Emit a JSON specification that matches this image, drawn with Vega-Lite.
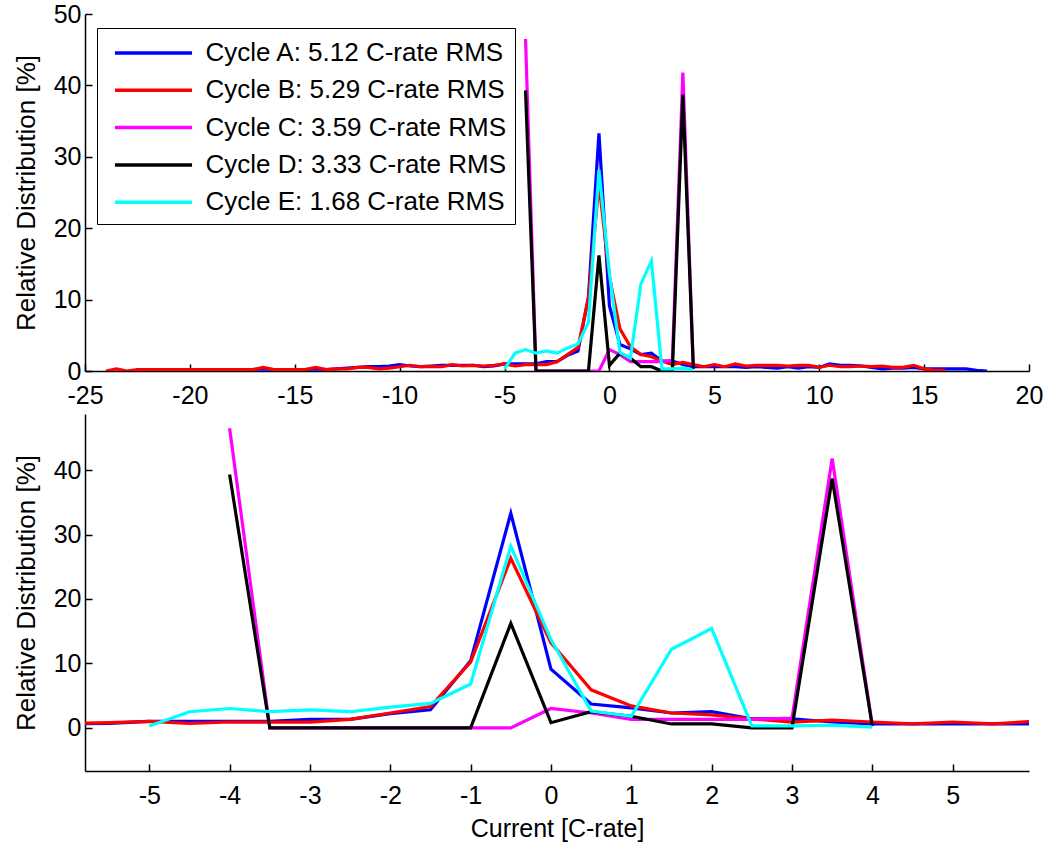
{
  "$schema": "https://vega.github.io/schema/vega-lite/v6.json",
  "padding": {"left": 13, "top": 2, "right": 5, "bottom": 5},
  "background": "white",
  "spacing": 43,
  "bounds": "flush",
  "config": {
    "view": {"stroke": null},
    "font": "Liberation Sans",
    "axis": {
      "grid": false,
      "domainColor": "black",
      "domainWidth": 1.5,
      "tickColor": "black",
      "tickWidth": 1.5,
      "tickSize": -7,
      "labelColor": "black",
      "labelFont": "Liberation Sans",
      "labelFontSize": 25,
      "labelFlush": false,
      "labelOverlap": false,
      "labelExpr": "'' + datum.value",
      "titleFont": "Liberation Sans",
      "titleFontSize": 25,
      "titleFontWeight": "normal",
      "titleColor": "black"
    },
    "axisX": {"labelPadding": 19},
    "axisY": {"labelPadding": 11, "titleFontSize": 26, "titlePadding": 14}
  },
  "datasets": {
    "d": [
      {"cycle": "Cycle A: 5.12 C-rate RMS", "x": -22, "y": 0.2},
      {"cycle": "Cycle A: 5.12 C-rate RMS", "x": -21.5, "y": 0.2},
      {"cycle": "Cycle A: 5.12 C-rate RMS", "x": -21, "y": 0.2},
      {"cycle": "Cycle A: 5.12 C-rate RMS", "x": -20.5, "y": 0.2},
      {"cycle": "Cycle A: 5.12 C-rate RMS", "x": -20, "y": 0.2},
      {"cycle": "Cycle A: 5.12 C-rate RMS", "x": -19.5, "y": 0.2},
      {"cycle": "Cycle A: 5.12 C-rate RMS", "x": -19, "y": 0.2},
      {"cycle": "Cycle A: 5.12 C-rate RMS", "x": -18.5, "y": 0.2},
      {"cycle": "Cycle A: 5.12 C-rate RMS", "x": -18, "y": 0.2},
      {"cycle": "Cycle A: 5.12 C-rate RMS", "x": -17.5, "y": 0.2},
      {"cycle": "Cycle A: 5.12 C-rate RMS", "x": -17, "y": 0.2},
      {"cycle": "Cycle A: 5.12 C-rate RMS", "x": -16.5, "y": 0.3},
      {"cycle": "Cycle A: 5.12 C-rate RMS", "x": -16, "y": 0.2},
      {"cycle": "Cycle A: 5.12 C-rate RMS", "x": -15.5, "y": 0.2},
      {"cycle": "Cycle A: 5.12 C-rate RMS", "x": -15, "y": 0.2},
      {"cycle": "Cycle A: 5.12 C-rate RMS", "x": -14.5, "y": 0.2},
      {"cycle": "Cycle A: 5.12 C-rate RMS", "x": -14, "y": 0.3},
      {"cycle": "Cycle A: 5.12 C-rate RMS", "x": -13.5, "y": 0.2},
      {"cycle": "Cycle A: 5.12 C-rate RMS", "x": -13, "y": 0.3},
      {"cycle": "Cycle A: 5.12 C-rate RMS", "x": -12.5, "y": 0.4},
      {"cycle": "Cycle A: 5.12 C-rate RMS", "x": -12, "y": 0.5},
      {"cycle": "Cycle A: 5.12 C-rate RMS", "x": -11.5, "y": 0.6},
      {"cycle": "Cycle A: 5.12 C-rate RMS", "x": -11, "y": 0.6},
      {"cycle": "Cycle A: 5.12 C-rate RMS", "x": -10.5, "y": 0.7},
      {"cycle": "Cycle A: 5.12 C-rate RMS", "x": -10, "y": 0.9},
      {"cycle": "Cycle A: 5.12 C-rate RMS", "x": -9.5, "y": 0.7},
      {"cycle": "Cycle A: 5.12 C-rate RMS", "x": -9, "y": 0.6},
      {"cycle": "Cycle A: 5.12 C-rate RMS", "x": -8.5, "y": 0.7},
      {"cycle": "Cycle A: 5.12 C-rate RMS", "x": -8, "y": 0.8},
      {"cycle": "Cycle A: 5.12 C-rate RMS", "x": -7.5, "y": 0.8},
      {"cycle": "Cycle A: 5.12 C-rate RMS", "x": -7, "y": 0.8},
      {"cycle": "Cycle A: 5.12 C-rate RMS", "x": -6.5, "y": 0.8},
      {"cycle": "Cycle A: 5.12 C-rate RMS", "x": -6, "y": 0.6},
      {"cycle": "Cycle A: 5.12 C-rate RMS", "x": -5.5, "y": 0.7},
      {"cycle": "Cycle A: 5.12 C-rate RMS", "x": -5, "y": 1.0},
      {"cycle": "Cycle A: 5.12 C-rate RMS", "x": -4.5, "y": 1.0},
      {"cycle": "Cycle A: 5.12 C-rate RMS", "x": -4, "y": 1.0},
      {"cycle": "Cycle A: 5.12 C-rate RMS", "x": -3.5, "y": 1.0},
      {"cycle": "Cycle A: 5.12 C-rate RMS", "x": -3, "y": 1.3},
      {"cycle": "Cycle A: 5.12 C-rate RMS", "x": -2.5, "y": 1.3},
      {"cycle": "Cycle A: 5.12 C-rate RMS", "x": -2, "y": 2.2},
      {"cycle": "Cycle A: 5.12 C-rate RMS", "x": -1.5, "y": 2.8},
      {"cycle": "Cycle A: 5.12 C-rate RMS", "x": -1, "y": 10.4},
      {"cycle": "Cycle A: 5.12 C-rate RMS", "x": -0.5, "y": 33.3},
      {"cycle": "Cycle A: 5.12 C-rate RMS", "x": 0, "y": 9.1},
      {"cycle": "Cycle A: 5.12 C-rate RMS", "x": 0.5, "y": 3.7},
      {"cycle": "Cycle A: 5.12 C-rate RMS", "x": 1, "y": 3.1},
      {"cycle": "Cycle A: 5.12 C-rate RMS", "x": 1.5, "y": 2.3},
      {"cycle": "Cycle A: 5.12 C-rate RMS", "x": 2, "y": 2.5},
      {"cycle": "Cycle A: 5.12 C-rate RMS", "x": 2.5, "y": 1.4},
      {"cycle": "Cycle A: 5.12 C-rate RMS", "x": 3, "y": 1.4},
      {"cycle": "Cycle A: 5.12 C-rate RMS", "x": 3.5, "y": 0.9},
      {"cycle": "Cycle A: 5.12 C-rate RMS", "x": 4, "y": 0.6},
      {"cycle": "Cycle A: 5.12 C-rate RMS", "x": 4.5, "y": 0.6},
      {"cycle": "Cycle A: 5.12 C-rate RMS", "x": 5, "y": 0.6},
      {"cycle": "Cycle A: 5.12 C-rate RMS", "x": 5.5, "y": 0.6},
      {"cycle": "Cycle A: 5.12 C-rate RMS", "x": 6, "y": 0.6},
      {"cycle": "Cycle A: 5.12 C-rate RMS", "x": 6.5, "y": 0.5},
      {"cycle": "Cycle A: 5.12 C-rate RMS", "x": 7, "y": 0.6},
      {"cycle": "Cycle A: 5.12 C-rate RMS", "x": 7.5, "y": 0.5},
      {"cycle": "Cycle A: 5.12 C-rate RMS", "x": 8, "y": 0.4},
      {"cycle": "Cycle A: 5.12 C-rate RMS", "x": 8.5, "y": 0.6},
      {"cycle": "Cycle A: 5.12 C-rate RMS", "x": 9, "y": 0.4},
      {"cycle": "Cycle A: 5.12 C-rate RMS", "x": 9.5, "y": 0.6},
      {"cycle": "Cycle A: 5.12 C-rate RMS", "x": 10, "y": 0.5},
      {"cycle": "Cycle A: 5.12 C-rate RMS", "x": 10.5, "y": 1.0},
      {"cycle": "Cycle A: 5.12 C-rate RMS", "x": 11, "y": 0.8},
      {"cycle": "Cycle A: 5.12 C-rate RMS", "x": 11.5, "y": 0.8},
      {"cycle": "Cycle A: 5.12 C-rate RMS", "x": 12, "y": 0.7},
      {"cycle": "Cycle A: 5.12 C-rate RMS", "x": 12.5, "y": 0.5},
      {"cycle": "Cycle A: 5.12 C-rate RMS", "x": 13, "y": 0.3},
      {"cycle": "Cycle A: 5.12 C-rate RMS", "x": 13.5, "y": 0.4},
      {"cycle": "Cycle A: 5.12 C-rate RMS", "x": 14, "y": 0.4},
      {"cycle": "Cycle A: 5.12 C-rate RMS", "x": 14.5, "y": 0.5},
      {"cycle": "Cycle A: 5.12 C-rate RMS", "x": 15, "y": 0.3},
      {"cycle": "Cycle A: 5.12 C-rate RMS", "x": 15.5, "y": 0.3},
      {"cycle": "Cycle A: 5.12 C-rate RMS", "x": 16, "y": 0.3},
      {"cycle": "Cycle A: 5.12 C-rate RMS", "x": 16.5, "y": 0.3},
      {"cycle": "Cycle A: 5.12 C-rate RMS", "x": 17, "y": 0.3},
      {"cycle": "Cycle A: 5.12 C-rate RMS", "x": 17.5, "y": 0.1},
      {"cycle": "Cycle A: 5.12 C-rate RMS", "x": 18, "y": 0.0},

      {"cycle": "Cycle B: 5.29 C-rate RMS", "x": -24, "y": 0.0},
      {"cycle": "Cycle B: 5.29 C-rate RMS", "x": -23.5, "y": 0.3},
      {"cycle": "Cycle B: 5.29 C-rate RMS", "x": -23, "y": 0.0},
      {"cycle": "Cycle B: 5.29 C-rate RMS", "x": -22.5, "y": 0.2},
      {"cycle": "Cycle B: 5.29 C-rate RMS", "x": -22, "y": 0.2},
      {"cycle": "Cycle B: 5.29 C-rate RMS", "x": -21.5, "y": 0.2},
      {"cycle": "Cycle B: 5.29 C-rate RMS", "x": -21, "y": 0.2},
      {"cycle": "Cycle B: 5.29 C-rate RMS", "x": -20.5, "y": 0.2},
      {"cycle": "Cycle B: 5.29 C-rate RMS", "x": -20, "y": 0.2},
      {"cycle": "Cycle B: 5.29 C-rate RMS", "x": -19.5, "y": 0.2},
      {"cycle": "Cycle B: 5.29 C-rate RMS", "x": -19, "y": 0.2},
      {"cycle": "Cycle B: 5.29 C-rate RMS", "x": -18.5, "y": 0.2},
      {"cycle": "Cycle B: 5.29 C-rate RMS", "x": -18, "y": 0.2},
      {"cycle": "Cycle B: 5.29 C-rate RMS", "x": -17.5, "y": 0.2},
      {"cycle": "Cycle B: 5.29 C-rate RMS", "x": -17, "y": 0.2},
      {"cycle": "Cycle B: 5.29 C-rate RMS", "x": -16.5, "y": 0.5},
      {"cycle": "Cycle B: 5.29 C-rate RMS", "x": -16, "y": 0.2},
      {"cycle": "Cycle B: 5.29 C-rate RMS", "x": -15.5, "y": 0.2},
      {"cycle": "Cycle B: 5.29 C-rate RMS", "x": -15, "y": 0.2},
      {"cycle": "Cycle B: 5.29 C-rate RMS", "x": -14.5, "y": 0.2},
      {"cycle": "Cycle B: 5.29 C-rate RMS", "x": -14, "y": 0.5},
      {"cycle": "Cycle B: 5.29 C-rate RMS", "x": -13.5, "y": 0.2},
      {"cycle": "Cycle B: 5.29 C-rate RMS", "x": -13, "y": 0.3},
      {"cycle": "Cycle B: 5.29 C-rate RMS", "x": -12.5, "y": 0.3},
      {"cycle": "Cycle B: 5.29 C-rate RMS", "x": -12, "y": 0.5},
      {"cycle": "Cycle B: 5.29 C-rate RMS", "x": -11.5, "y": 0.5},
      {"cycle": "Cycle B: 5.29 C-rate RMS", "x": -11, "y": 0.3},
      {"cycle": "Cycle B: 5.29 C-rate RMS", "x": -10.5, "y": 0.4},
      {"cycle": "Cycle B: 5.29 C-rate RMS", "x": -10, "y": 0.6},
      {"cycle": "Cycle B: 5.29 C-rate RMS", "x": -9.5, "y": 0.8},
      {"cycle": "Cycle B: 5.29 C-rate RMS", "x": -9, "y": 0.6},
      {"cycle": "Cycle B: 5.29 C-rate RMS", "x": -8.5, "y": 0.6},
      {"cycle": "Cycle B: 5.29 C-rate RMS", "x": -8, "y": 0.6},
      {"cycle": "Cycle B: 5.29 C-rate RMS", "x": -7.5, "y": 0.9},
      {"cycle": "Cycle B: 5.29 C-rate RMS", "x": -7, "y": 0.7},
      {"cycle": "Cycle B: 5.29 C-rate RMS", "x": -6.5, "y": 0.8},
      {"cycle": "Cycle B: 5.29 C-rate RMS", "x": -6, "y": 0.7},
      {"cycle": "Cycle B: 5.29 C-rate RMS", "x": -5.5, "y": 0.8},
      {"cycle": "Cycle B: 5.29 C-rate RMS", "x": -5, "y": 1.0},
      {"cycle": "Cycle B: 5.29 C-rate RMS", "x": -4.5, "y": 0.7},
      {"cycle": "Cycle B: 5.29 C-rate RMS", "x": -4, "y": 0.9},
      {"cycle": "Cycle B: 5.29 C-rate RMS", "x": -3.5, "y": 0.9},
      {"cycle": "Cycle B: 5.29 C-rate RMS", "x": -3, "y": 0.9},
      {"cycle": "Cycle B: 5.29 C-rate RMS", "x": -2.5, "y": 1.3},
      {"cycle": "Cycle B: 5.29 C-rate RMS", "x": -2, "y": 2.3},
      {"cycle": "Cycle B: 5.29 C-rate RMS", "x": -1.5, "y": 3.3},
      {"cycle": "Cycle B: 5.29 C-rate RMS", "x": -1, "y": 10.2},
      {"cycle": "Cycle B: 5.29 C-rate RMS", "x": -0.5, "y": 26.3},
      {"cycle": "Cycle B: 5.29 C-rate RMS", "x": 0, "y": 13.2},
      {"cycle": "Cycle B: 5.29 C-rate RMS", "x": 0.5, "y": 5.9},
      {"cycle": "Cycle B: 5.29 C-rate RMS", "x": 1, "y": 3.4},
      {"cycle": "Cycle B: 5.29 C-rate RMS", "x": 1.5, "y": 2.3},
      {"cycle": "Cycle B: 5.29 C-rate RMS", "x": 2, "y": 2.0},
      {"cycle": "Cycle B: 5.29 C-rate RMS", "x": 2.5, "y": 1.4},
      {"cycle": "Cycle B: 5.29 C-rate RMS", "x": 3, "y": 0.9},
      {"cycle": "Cycle B: 5.29 C-rate RMS", "x": 3.5, "y": 1.2},
      {"cycle": "Cycle B: 5.29 C-rate RMS", "x": 4, "y": 0.9},
      {"cycle": "Cycle B: 5.29 C-rate RMS", "x": 4.5, "y": 0.6},
      {"cycle": "Cycle B: 5.29 C-rate RMS", "x": 5, "y": 0.9},
      {"cycle": "Cycle B: 5.29 C-rate RMS", "x": 5.5, "y": 0.6},
      {"cycle": "Cycle B: 5.29 C-rate RMS", "x": 6, "y": 1.0},
      {"cycle": "Cycle B: 5.29 C-rate RMS", "x": 6.5, "y": 0.7},
      {"cycle": "Cycle B: 5.29 C-rate RMS", "x": 7, "y": 0.8},
      {"cycle": "Cycle B: 5.29 C-rate RMS", "x": 7.5, "y": 0.8},
      {"cycle": "Cycle B: 5.29 C-rate RMS", "x": 8, "y": 0.8},
      {"cycle": "Cycle B: 5.29 C-rate RMS", "x": 8.5, "y": 0.7},
      {"cycle": "Cycle B: 5.29 C-rate RMS", "x": 9, "y": 0.8},
      {"cycle": "Cycle B: 5.29 C-rate RMS", "x": 9.5, "y": 0.8},
      {"cycle": "Cycle B: 5.29 C-rate RMS", "x": 10, "y": 0.5},
      {"cycle": "Cycle B: 5.29 C-rate RMS", "x": 10.5, "y": 0.8},
      {"cycle": "Cycle B: 5.29 C-rate RMS", "x": 11, "y": 0.6},
      {"cycle": "Cycle B: 5.29 C-rate RMS", "x": 11.5, "y": 0.6},
      {"cycle": "Cycle B: 5.29 C-rate RMS", "x": 12, "y": 0.7},
      {"cycle": "Cycle B: 5.29 C-rate RMS", "x": 12.5, "y": 0.6},
      {"cycle": "Cycle B: 5.29 C-rate RMS", "x": 13, "y": 0.7},
      {"cycle": "Cycle B: 5.29 C-rate RMS", "x": 13.5, "y": 0.5},
      {"cycle": "Cycle B: 5.29 C-rate RMS", "x": 14, "y": 0.5},
      {"cycle": "Cycle B: 5.29 C-rate RMS", "x": 14.5, "y": 0.8},
      {"cycle": "Cycle B: 5.29 C-rate RMS", "x": 15, "y": 0.3},
      {"cycle": "Cycle B: 5.29 C-rate RMS", "x": 15.5, "y": 0.1},
      {"cycle": "Cycle B: 5.29 C-rate RMS", "x": 16, "y": 0.1},

      {"cycle": "Cycle C: 3.59 C-rate RMS", "x": -4, "y": 46.5},
      {"cycle": "Cycle C: 3.59 C-rate RMS", "x": -3.5, "y": 0},
      {"cycle": "Cycle C: 3.59 C-rate RMS", "x": -3, "y": 0},
      {"cycle": "Cycle C: 3.59 C-rate RMS", "x": -2.5, "y": 0},
      {"cycle": "Cycle C: 3.59 C-rate RMS", "x": -2, "y": 0},
      {"cycle": "Cycle C: 3.59 C-rate RMS", "x": -1.5, "y": 0},
      {"cycle": "Cycle C: 3.59 C-rate RMS", "x": -1, "y": 0},
      {"cycle": "Cycle C: 3.59 C-rate RMS", "x": -0.5, "y": 0},
      {"cycle": "Cycle C: 3.59 C-rate RMS", "x": 0, "y": 3.0},
      {"cycle": "Cycle C: 3.59 C-rate RMS", "x": 0.5, "y": 2.3},
      {"cycle": "Cycle C: 3.59 C-rate RMS", "x": 1, "y": 1.3},
      {"cycle": "Cycle C: 3.59 C-rate RMS", "x": 1.5, "y": 1.3},
      {"cycle": "Cycle C: 3.59 C-rate RMS", "x": 2, "y": 1.3},
      {"cycle": "Cycle C: 3.59 C-rate RMS", "x": 2.5, "y": 1.3},
      {"cycle": "Cycle C: 3.59 C-rate RMS", "x": 3, "y": 1.5},
      {"cycle": "Cycle C: 3.59 C-rate RMS", "x": 3.5, "y": 41.8},
      {"cycle": "Cycle C: 3.59 C-rate RMS", "x": 4, "y": 0.3},

      {"cycle": "Cycle D: 3.33 C-rate RMS", "x": -4, "y": 39.3},
      {"cycle": "Cycle D: 3.33 C-rate RMS", "x": -3.5, "y": 0},
      {"cycle": "Cycle D: 3.33 C-rate RMS", "x": -3, "y": 0},
      {"cycle": "Cycle D: 3.33 C-rate RMS", "x": -2.5, "y": 0},
      {"cycle": "Cycle D: 3.33 C-rate RMS", "x": -2, "y": 0},
      {"cycle": "Cycle D: 3.33 C-rate RMS", "x": -1.5, "y": 0},
      {"cycle": "Cycle D: 3.33 C-rate RMS", "x": -1, "y": 0},
      {"cycle": "Cycle D: 3.33 C-rate RMS", "x": -0.5, "y": 16.2},
      {"cycle": "Cycle D: 3.33 C-rate RMS", "x": 0, "y": 0.8},
      {"cycle": "Cycle D: 3.33 C-rate RMS", "x": 0.5, "y": 2.5},
      {"cycle": "Cycle D: 3.33 C-rate RMS", "x": 1, "y": 1.8},
      {"cycle": "Cycle D: 3.33 C-rate RMS", "x": 1.5, "y": 0.6},
      {"cycle": "Cycle D: 3.33 C-rate RMS", "x": 2, "y": 0.6},
      {"cycle": "Cycle D: 3.33 C-rate RMS", "x": 2.5, "y": 0},
      {"cycle": "Cycle D: 3.33 C-rate RMS", "x": 3, "y": 0},
      {"cycle": "Cycle D: 3.33 C-rate RMS", "x": 3.5, "y": 38.7},
      {"cycle": "Cycle D: 3.33 C-rate RMS", "x": 4, "y": 0.3},

      {"cycle": "Cycle E: 1.68 C-rate RMS", "x": -5, "y": 0.3},
      {"cycle": "Cycle E: 1.68 C-rate RMS", "x": -4.5, "y": 2.5},
      {"cycle": "Cycle E: 1.68 C-rate RMS", "x": -4, "y": 3.0},
      {"cycle": "Cycle E: 1.68 C-rate RMS", "x": -3.5, "y": 2.5},
      {"cycle": "Cycle E: 1.68 C-rate RMS", "x": -3, "y": 2.8},
      {"cycle": "Cycle E: 1.68 C-rate RMS", "x": -2.5, "y": 2.5},
      {"cycle": "Cycle E: 1.68 C-rate RMS", "x": -2, "y": 3.2},
      {"cycle": "Cycle E: 1.68 C-rate RMS", "x": -1.5, "y": 3.8},
      {"cycle": "Cycle E: 1.68 C-rate RMS", "x": -1, "y": 6.8},
      {"cycle": "Cycle E: 1.68 C-rate RMS", "x": -0.5, "y": 28.2},
      {"cycle": "Cycle E: 1.68 C-rate RMS", "x": 0, "y": 13.7},
      {"cycle": "Cycle E: 1.68 C-rate RMS", "x": 0.5, "y": 2.6},
      {"cycle": "Cycle E: 1.68 C-rate RMS", "x": 1, "y": 1.8},
      {"cycle": "Cycle E: 1.68 C-rate RMS", "x": 1.5, "y": 12.2},
      {"cycle": "Cycle E: 1.68 C-rate RMS", "x": 2, "y": 15.4},
      {"cycle": "Cycle E: 1.68 C-rate RMS", "x": 2.5, "y": 0.3},
      {"cycle": "Cycle E: 1.68 C-rate RMS", "x": 3, "y": 0.3},
      {"cycle": "Cycle E: 1.68 C-rate RMS", "x": 3.5, "y": 0.4},
      {"cycle": "Cycle E: 1.68 C-rate RMS", "x": 4, "y": 0.1}
    ]
  },
  "vconcat": [
    {
      "width": 944,
      "height": 357,
      "data": {"name": "d"},
      "mark": {"type": "line", "strokeWidth": 3.2, "clip": true},
      "encoding": {
        "x": {"field": "x", "type": "quantitative", "scale": {"domain": [-25, 20], "nice": false, "zero": false},
              "axis": {"values": [-25, -20, -15, -10, -5, 0, 5, 10, 15, 20], "title": null}},
        "y": {"field": "y", "type": "quantitative", "scale": {"domain": [0, 50], "nice": false},
              "axis": {"values": [0, 10, 20, 30, 40, 50], "title": "Relative Distribution [%]"}},
        "color": {"field": "cycle", "type": "nominal",
          "scale": {"domain": ["Cycle A: 5.12 C-rate RMS", "Cycle B: 5.29 C-rate RMS", "Cycle C: 3.59 C-rate RMS", "Cycle D: 3.33 C-rate RMS", "Cycle E: 1.68 C-rate RMS"],
                    "range": ["#0000ff", "#ff0000", "#ff00ff", "#000000", "#00ffff"]},
          "legend": {"orient": "none", "legendX": 12, "legendY": 14, "title": null,
                     "strokeColor": "black", "fillColor": "white", "padding": 8,
                     "symbolType": "M-2.57,0H2.57", "symbolSize": 900, "symbolStrokeWidth": 3.5,
                     "symbolOffset": 31.5,
                     "labelFontSize": 26, "labelFont": "Liberation Sans", "labelColor": "black",
                     "rowPadding": 7.3, "labelOffset": 35, "labelLimit": 600}}
      }
    },
    {
      "width": 944,
      "height": 357,
      "data": {"name": "d"},
      "mark": {"type": "line", "strokeWidth": 3.2, "clip": true},
      "encoding": {
        "x": {"field": "x", "type": "quantitative", "scale": {"domain": [-5.8, 5.95], "nice": false, "zero": false},
              "axis": {"values": [-5, -4, -3, -2, -1, 0, 1, 2, 3, 4, 5], "title": "Current [C-rate]", "titlePadding": 8}},
        "y": {"field": "y", "type": "quantitative", "scale": {"domain": [-6.7, 48.7], "nice": false, "zero": false},
              "axis": {"values": [0, 10, 20, 30, 40], "title": "Relative Distribution [%]"}},
        "color": {"field": "cycle", "type": "nominal", "legend": null}
      }
    }
  ]
}
